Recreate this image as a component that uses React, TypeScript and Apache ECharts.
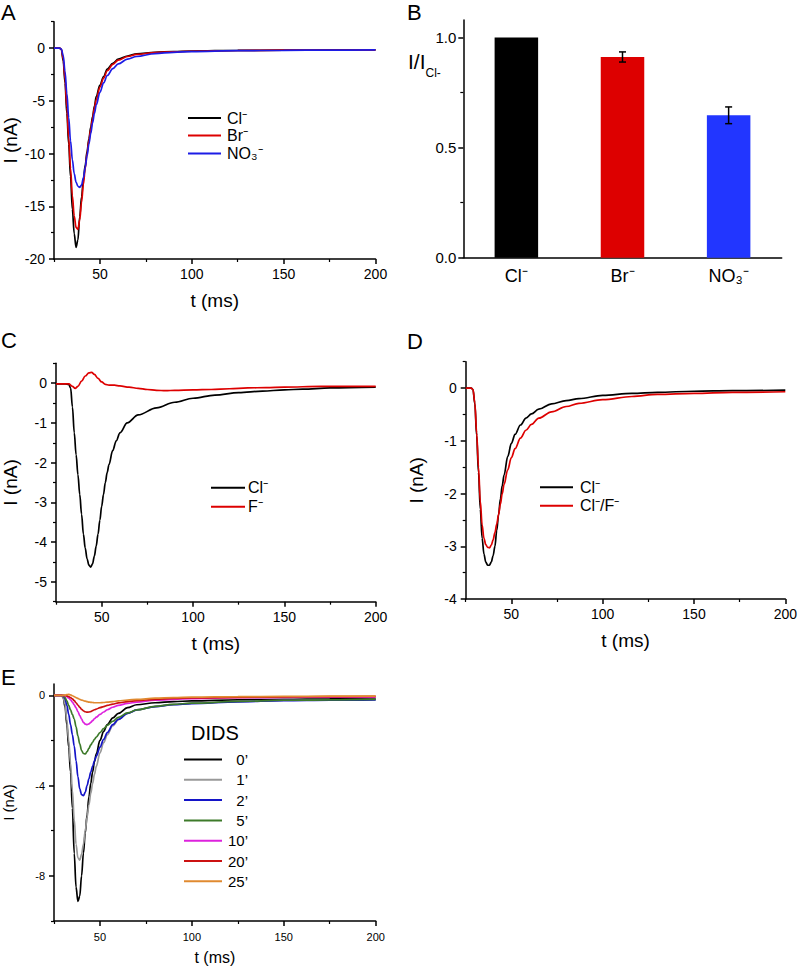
import React, { useEffect, useRef } from "react";
import * as echarts from "echarts";

const FONT = '"Liberation Sans", Arial, Helvetica, sans-serif';

// ---------- Panel A ----------
const tA = [25, 28, 29, 30, 31, 32, 33, 34, 35, 36, 37, 38, 39, 40, 41, 42, 43, 44, 45, 46, 47, 48, 50, 52, 54, 57, 60, 65, 70, 80, 90, 100, 125, 150, 175, 200];
const aCl = [0, 0, -0.15, -1.2, -3.3, -6.2, -9.1, -12.2, -15.3, -17.6, -18.9, -18.2, -16.0, -14.1, -12.5, -11.1, -9.8, -8.6, -7.5, -6.5, -5.5, -4.6, -3.5, -2.7, -2.0, -1.45, -1.05, -0.75, -0.55, -0.4, -0.33, -0.28, -0.22, -0.2, -0.18, -0.18];
const aBr = [0, 0, -0.12, -1.0, -2.9, -5.6, -8.5, -11.4, -14.0, -15.9, -17.0, -17.2, -16.3, -14.6, -12.9, -11.4, -10.0, -8.8, -7.7, -6.7, -5.7, -4.9, -3.7, -2.85, -2.15, -1.55, -1.15, -0.8, -0.6, -0.43, -0.35, -0.3, -0.23, -0.2, -0.19, -0.18];
const aNO3 = [0, 0, -0.1, -0.7, -2.2, -4.3, -6.6, -8.8, -10.6, -11.9, -12.7, -13.1, -13.2, -13.0, -12.3, -11.3, -10.2, -9.1, -8.1, -7.1, -6.2, -5.4, -4.2, -3.3, -2.6, -1.95, -1.5, -1.05, -0.8, -0.52, -0.4, -0.33, -0.25, -0.21, -0.19, -0.18];
const aNames = ["Cl\u207B", "Br\u207B", "NO\u2083\u207B"];

// ---------- Panel B ----------
const bCategories = ["Cl\u207B", "Br\u207B", "NO\u2083\u207B"];
const bValues = [1.0, 0.912, 0.647];
const bErrors = [0, 0.023, 0.038];
const bColors = ["#000000", "#DD0000", "#2236FF"];

// ---------- Panel C ----------
const tC = [25, 30, 32, 33, 34, 35, 36, 37, 38, 39, 40, 41, 42, 43, 44, 45, 46, 47, 48, 49, 50, 51, 52, 53, 54, 56, 58, 60, 64, 70, 80, 90, 100, 112, 125, 138, 150, 160, 175, 200];
const cCl = [-0.02, -0.02, -0.03, -0.12, -0.6, -1.25, -1.8, -2.3, -2.8, -3.3, -3.8, -4.15, -4.42, -4.58, -4.63, -4.55, -4.35, -4.1, -3.8, -3.45, -3.1, -2.8, -2.5, -2.25, -2.05, -1.7, -1.45, -1.25, -1.0, -0.8, -0.62, -0.48, -0.38, -0.3, -0.24, -0.2, -0.17, -0.15, -0.12, -0.1];
const tF = [25, 32, 34, 35.5, 37, 39, 41, 43, 44.5, 46, 48, 50, 52, 54, 57, 60, 65, 70, 75, 80, 85, 90, 100, 110, 120, 130, 140, 150, 170, 200];
const cF = [-0.02, -0.02, -0.08, -0.13, -0.08, 0.05, 0.18, 0.26, 0.27, 0.22, 0.12, 0.03, -0.03, -0.05, -0.05, -0.07, -0.1, -0.13, -0.16, -0.18, -0.19, -0.18, -0.17, -0.16, -0.14, -0.12, -0.11, -0.1, -0.08, -0.08];
const cNames = ["Cl\u207B", "F\u207B"];

// ---------- Panel D ----------
const tD = [25, 28, 29, 30, 31, 32, 33, 34, 35, 36, 37, 38, 39, 40, 41, 42, 43, 44, 45, 46, 48, 50, 52, 55, 58, 61, 65, 72, 80, 87, 100, 116, 130, 150, 171, 200];
const dCl = [0, 0, -0.03, -0.3, -0.9, -1.6, -2.3, -2.85, -3.15, -3.3, -3.36, -3.36, -3.3, -3.18, -3.0, -2.7, -2.4, -2.1, -1.85, -1.65, -1.3, -1.05, -0.88, -0.7, -0.57, -0.49, -0.4, -0.3, -0.24, -0.2, -0.14, -0.1, -0.08, -0.06, -0.05, -0.04];
const dClF = [0, 0, -0.03, -0.28, -0.85, -1.5, -2.15, -2.6, -2.85, -2.97, -3.02, -3.03, -2.98, -2.88, -2.74, -2.58, -2.4, -2.2, -2.0, -1.83, -1.55, -1.32, -1.15, -0.95, -0.8, -0.69, -0.57, -0.45, -0.35, -0.29, -0.22, -0.16, -0.12, -0.1, -0.08, -0.07];
const dNames = ["Cl\u207B", "Cl\u207B/F\u207B"];

// ---------- Panel E ----------
const tE = [25, 29, 30, 31, 32, 33, 34, 35, 36, 37, 38, 39, 40, 41, 42, 43, 44, 45, 46, 47, 48, 50, 52, 54, 57, 60, 65, 70, 80, 90, 100, 125, 150, 175, 200];
const e0 = [0, 0, -0.1, -0.5, -1.3, -2.3, -3.4, -5.0, -7.0, -8.5, -9.13, -8.9, -8.0, -7.0, -6.1, -5.3, -4.5, -3.9, -3.4, -2.95, -2.6, -2.0, -1.6, -1.3, -1.0, -0.8, -0.55, -0.42, -0.33, -0.28, -0.25, -0.2, -0.18, -0.16, -0.15];
const e1 = [0, 0, -0.08, -0.4, -1.1, -2.0, -3.0, -4.2, -5.5, -6.6, -7.2, -7.3, -7.05, -6.6, -6.0, -5.4, -4.85, -4.35, -3.9, -3.5, -3.15, -2.55, -2.1, -1.75, -1.35, -1.08, -0.8, -0.65, -0.5, -0.4, -0.35, -0.27, -0.22, -0.2, -0.18];
const e2 = [0, 0, -0.03, -0.15, -0.45, -0.85, -1.3, -1.75, -2.25, -2.9, -3.6, -4.15, -4.4, -4.45, -4.3, -4.0, -3.7, -3.4, -3.15, -2.9, -2.7, -2.3, -1.95, -1.65, -1.3, -1.07, -0.8, -0.65, -0.5, -0.42, -0.37, -0.29, -0.24, -0.22, -0.2];
const e5 = [0, 0, -0.02, -0.1, -0.25, -0.45, -0.65, -0.85, -1.05, -1.4, -1.8, -2.15, -2.45, -2.58, -2.6, -2.5, -2.35, -2.2, -2.08, -1.95, -1.85, -1.65, -1.48, -1.33, -1.15, -0.98, -0.78, -0.65, -0.49, -0.4, -0.35, -0.27, -0.22, -0.2, -0.18];
const e10 = [0, 0, 0, -0.02, -0.06, -0.12, -0.2, -0.3, -0.42, -0.56, -0.72, -0.9, -1.05, -1.2, -1.28, -1.3, -1.27, -1.2, -1.12, -1.04, -0.97, -0.85, -0.74, -0.64, -0.53, -0.45, -0.36, -0.3, -0.22, -0.18, -0.15, -0.11, -0.09, -0.08, -0.08];
const e20 = [0, 0, 0, -0.01, -0.03, -0.06, -0.1, -0.16, -0.24, -0.33, -0.43, -0.53, -0.62, -0.69, -0.73, -0.75, -0.74, -0.72, -0.68, -0.64, -0.61, -0.55, -0.5, -0.45, -0.39, -0.34, -0.28, -0.24, -0.18, -0.14, -0.12, -0.09, -0.07, -0.06, -0.05];
const e25 = [0, 0, 0, 0.01, 0.03, 0.04, 0.02, -0.02, -0.06, -0.1, -0.14, -0.18, -0.21, -0.24, -0.26, -0.28, -0.3, -0.31, -0.32, -0.33, -0.33, -0.33, -0.32, -0.3, -0.28, -0.25, -0.21, -0.18, -0.13, -0.1, -0.08, -0.06, -0.05, -0.04, -0.04];
const eSeries = [e0, e1, e2, e5, e10, e20, e25];
const eLabels = ["0\u2019", "1\u2019", "2\u2019", "5\u2019", "10\u2019", "20\u2019", "25\u2019"];
const eColors = ["#000000", "#999999", "#1414C8", "#3D7A2A", "#DD22DD", "#CC1111", "#E08A30"];

// ---------- Axis ticks ----------
const xLabels = [50, 100, 150, 200];
const xMajor = [50, 100, 150, 200];
const xMinor = [25, 75, 125, 175];
const aYLabels = [-20, -15, -10, -5, 0];
const aYMinor = [-17.5, -12.5, -7.5, -2.5, 2.5];
const bYLabels = [0, 0.5, 1.0];
const bYMinor = [0.25, 0.75];
const cYLabels = [-5, -4, -3, -2, -1, 0];
const cYMinor = [-5.5, -4.5, -3.5, -2.5, -1.5, -0.5, 0.5];
const dYLabels = [-4, -3, -2, -1, 0];
const dYMinor = [-3.5, -2.5, -1.5, -0.5, 0.5];
const eYLabels = [-8, -4, 0];
const eYMinor = [-10, -6, -2];

const pairs = (t: number[], v: number[]) => t.map((x, i) => [x, v[i]]);

function axisPair(kind: "x" | "y", gridIndex: number, min: number, max: number, labels: number[], majors: number[], minors: number[], o: any) {
  const base: any = { type: "value", gridIndex, min, max, position: kind === "x" ? "bottom" : "left", splitLine: { show: false } };
  const main = {
    ...base,
    axisLine: { show: true, onZero: false, lineStyle: { color: "#000", width: 1.5 } },
    axisTick: { show: true, inside: false, length: 5, customValues: majors, lineStyle: { color: "#000", width: 1.5 } },
    axisLabel: {
      show: true,
      customValues: labels,
      color: "#000",
      fontSize: o.fontSize,
      fontFamily: FONT,
      fontWeight: "normal",
      margin: o.margin,
      formatter: o.formatter || ((v: number) => String(v)),
    },
    name: o.name,
    nameLocation: "middle",
    nameGap: o.nameGap,
    nameTextStyle: { color: "#000", fontSize: o.nameSize, fontFamily: FONT, fontWeight: "normal" },
  };
  const minor = {
    ...base,
    axisLine: { show: false, onZero: false },
    axisTick: { show: true, inside: false, length: 3, customValues: minors, lineStyle: { color: "#000", width: 1.2 } },
    axisLabel: { show: false },
  };
  return [main, minor];
}

const lineSeries = (name: string, xi: number, yi: number, data: number[][], color: string, z = 2) => ({
  type: "line",
  name,
  xAxisIndex: xi,
  yAxisIndex: yi,
  data,
  showSymbol: false,
  symbol: "none",
  smooth: 0.35,
  smoothMonotone: "x",
  lineStyle: { width: 1.7, color },
  itemStyle: { color },
  z,
});

const legendRow = (x1: number, x2: number, y: number, color: string, text: string, tx: number, size: number, align = "left") => [
  { type: "line", shape: { x1, y1: y, x2, y2: y }, style: { stroke: color, lineWidth: 2 } },
  {
    type: "text",
    x: tx,
    y,
    style: { text, align, verticalAlign: "middle", fontFamily: FONT, fontWeight: "normal", fontSize: size, fill: "#000" },
  },
];

const panelLetter = (t: string, x: number, y: number, size = 22) => ({
  type: "text",
  x,
  y,
  style: { text: t, fontFamily: FONT, fontWeight: "normal", fontSize: size, fill: "#000", verticalAlign: "middle", align: "left" },
});

export default function App() {
  const ref = useRef<HTMLDivElement>(null);
  useEffect(() => {
    if (!ref.current) return;
    const chart = echarts.init(ref.current, null, { renderer: "svg" });

    const grids = [
      { left: 52.5, top: 21.7, width: 323, height: 237.3 },
      { left: 463.3, top: 20, width: 318.4, height: 237.7 },
      { left: 52.3, top: 363.3, width: 323.4, height: 238.4 },
      { left: 465.7, top: 361.7, width: 322, height: 237.3 },
      { left: 52.3, top: 684, width: 323.4, height: 237 },
    ];

    const xAxes: any[] = [];
    const yAxes: any[] = [];
    // A
    xAxes.push(...axisPair("x", 0, 25, 200, xLabels, xMajor, xMinor, { fontSize: 14, margin: 8, name: "t (ms)", nameGap: 32, nameSize: 19 }));
    yAxes.push(...axisPair("y", 0, -20, 2.5, aYLabels, aYLabels, aYMinor, { fontSize: 14, margin: 9, name: "I (nA)", nameGap: 34, nameSize: 19 }));
    // B
    xAxes.push({
      type: "category",
      gridIndex: 1,
      data: bCategories,
      position: "bottom",
      axisLine: { show: true, onZero: false, lineStyle: { color: "#000", width: 1.5 } },
      axisTick: { show: false },
      axisLabel: {
        color: "#000",
        margin: 8,
        interval: 0,
        hideOverlap: false,
        fontSize: 18,
        lineHeight: 20,
        fontFamily: FONT,
        fontWeight: "normal",
      },
      splitLine: { show: false },
    });
    yAxes.push(...axisPair("y", 1, 0, 1.08, bYLabels, bYLabels, bYMinor, { fontSize: 15, margin: 7, formatter: (v: number) => v.toFixed(1) }));
    // C
    xAxes.push(...axisPair("x", 2, 25, 200, xLabels, xMajor, xMinor, { fontSize: 14, margin: 8, name: "t (ms)", nameGap: 32, nameSize: 19 }));
    yAxes.push(...axisPair("y", 2, -5.5, 0.5, cYLabels, cYLabels, cYMinor, { fontSize: 14, margin: 9, name: "I (nA)", nameGap: 36, nameSize: 19 }));
    // D
    xAxes.push(...axisPair("x", 3, 25, 200, xLabels, xMajor, xMinor, { fontSize: 14, margin: 8, name: "t (ms)", nameGap: 32, nameSize: 19 }));
    yAxes.push(...axisPair("y", 3, -4, 0.5, dYLabels, dYLabels, dYMinor, { fontSize: 14, margin: 9, name: "I (nA)", nameGap: 40, nameSize: 19 }));
    // E
    xAxes.push(...axisPair("x", 4, 25, 200, xLabels, xMajor, xMinor, { fontSize: 11, margin: 10, name: "t (ms)", nameGap: 28, nameSize: 16 }));
    yAxes.push(...axisPair("y", 4, -10, 0.5, eYLabels, eYLabels, eYMinor, { fontSize: 11, margin: 9, name: "I (nA)", nameGap: 38, nameSize: 15 }));

    const aColors = ["#000000", "#DD0000", "#1C1CE6"];
    const series: any[] = [
      lineSeries(aNames[0], 0, 0, pairs(tA, aCl), aColors[0]),
      lineSeries(aNames[1], 0, 0, pairs(tA, aBr), aColors[1]),
      lineSeries(aNames[2], 0, 0, pairs(tA, aNO3), aColors[2]),
      {
        type: "bar",
        xAxisIndex: 2,
        yAxisIndex: 2,
        barWidth: "41%",
        data: bValues.map((v, i) => ({ value: v, itemStyle: { color: bColors[i] } })),
      },
      {
        type: "custom",
        xAxisIndex: 2,
        yAxisIndex: 2,
        z: 10,
        encode: { x: 0, y: [1, 2] },
        data: bValues.map((v, i) => [i, v - bErrors[i], v + bErrors[i]]).filter((d, i) => bErrors[i] > 0),
        renderItem: (params: any, api: any) => {
          const lo = api.coord([api.value(0), api.value(1)]);
          const hi = api.coord([api.value(0), api.value(2)]);
          const w = 3.5;
          const st = { stroke: "#000", lineWidth: 1.5 };
          return {
            type: "group",
            children: [
              { type: "line", shape: { x1: hi[0], y1: hi[1], x2: lo[0], y2: lo[1] }, style: st },
              { type: "line", shape: { x1: hi[0] - w, y1: hi[1], x2: hi[0] + w, y2: hi[1] }, style: st },
              { type: "line", shape: { x1: lo[0] - w, y1: lo[1], x2: lo[0] + w, y2: lo[1] }, style: st },
            ],
          };
        },
      },
      lineSeries(cNames[0], 3, 4, pairs(tC, cCl), "#000000"),
      lineSeries(cNames[1], 3, 4, pairs(tF, cF), "#DD0000", 3),
      lineSeries(dNames[0], 5, 6, pairs(tD, dCl), "#000000"),
      lineSeries(dNames[1], 5, 6, pairs(tD, dClF), "#DD0000", 3),
      ...eSeries.map((s, i) => lineSeries(eLabels[i], 7, 8, pairs(tE, s), eColors[i], 2 + i * 0.01)),
    ];

    const graphic: any[] = [
      panelLetter("A", 1, 12),
      panelLetter("B", 407, 12),
      panelLetter("C", 1, 340),
      panelLetter("D", 407, 341),
      panelLetter("E", 1, 677),
      {
        type: "text",
        x: 408,
        y: 61,
        style: {
          text: "{m|I/I}{s|Cl-}",
          verticalAlign: "middle",
          align: "left",
          rich: {
            m: { fontSize: 21, fontFamily: FONT, fontWeight: "normal", fill: "#000", lineHeight: 35, verticalAlign: "middle" },
            s: { fontSize: 12, fontFamily: FONT, fontWeight: "normal", fill: "#000", lineHeight: 12, verticalAlign: "bottom" },
          },
        },
      },
      // Legend A
      ...aNames.flatMap((n, i) => legendRow(188, 221, [118, 135.5, 153.5][i], aColors[i], n, 227, 16)),
      // Legend C
      ...legendRow(211, 245, 487.7, "#000000", cNames[0], 248, 16),
      ...legendRow(211, 245, 506.7, "#DD0000", cNames[1], 248, 16),
      // Legend D
      ...legendRow(540, 573, 487.3, "#000000", dNames[0], 580, 16),
      ...legendRow(540, 573, 505.7, "#DD0000", dNames[1], 580, 16),
      // Legend E
      {
        type: "text",
        x: 191,
        y: 733,
        style: { text: "DIDS", fontFamily: FONT, fontWeight: "normal", fontSize: 20, fill: "#000", verticalAlign: "middle", align: "left" },
      },
      ...eLabels.flatMap((lab, i) => legendRow(184, 222, 759.5 + i * 20.3, eColors[i], lab, 248, 15, "right")),
    ];

    chart.setOption({
      animation: false,
      backgroundColor: "#ffffff",
      textStyle: { fontFamily: FONT, fontWeight: "normal" },
      grid: grids,
      xAxis: xAxes,
      yAxis: yAxes,
      series,
      graphic,
    });
    return () => chart.dispose();
  }, []);
  return <div ref={ref} style={{ position: "absolute", left: 0, top: 0, width: 800, height: 970 }} />;
}
